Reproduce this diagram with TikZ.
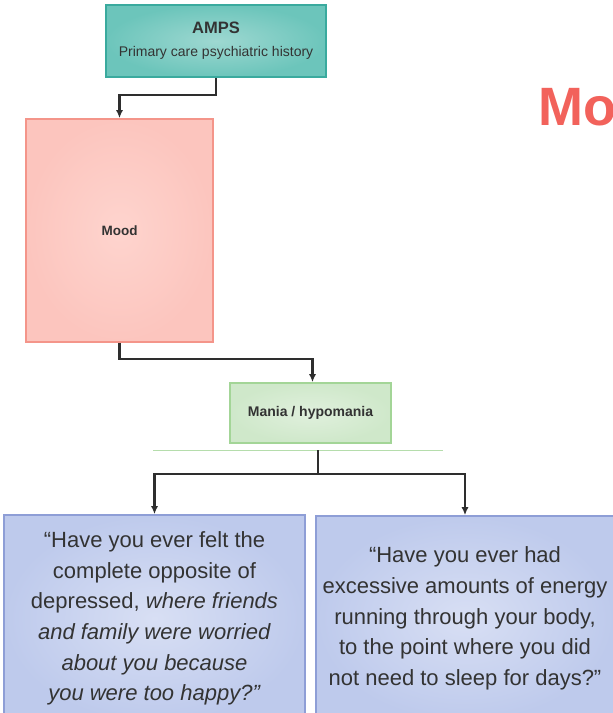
\documentclass[tikz,border=0pt]{standalone}
\usepackage{fontspec}
\setmainfont{Liberation Sans}
\usetikzlibrary{arrows.meta}
\definecolor{tealin}{HTML}{9ED8D1}
\definecolor{tealout}{HTML}{6CC5BB}
\definecolor{tealline}{HTML}{3AAA9E}
\definecolor{pinkin}{HTML}{FED4CE}
\definecolor{pinkout}{HTML}{FCC5BE}
\definecolor{pinkline}{HTML}{F4958A}
\definecolor{greenin}{HTML}{E0F0DD}
\definecolor{greenout}{HTML}{CFE8CA}
\definecolor{greenline}{HTML}{A3D597}
\definecolor{bluein}{HTML}{D8DFF4}
\definecolor{blueout}{HTML}{BECAEC}
\definecolor{blueline}{HTML}{8E9ED6}
\definecolor{txt}{HTML}{333333}
\definecolor{conn}{HTML}{2E2E2E}
\definecolor{titlered}{HTML}{F2625B}
\begin{document}
\begin{tikzpicture}[x=1pt,y=-1pt,
  box/.style={rectangle, inner sep=0pt, text=txt, align=center, line width=1.6pt},
  ampsbox/.style={box, inner color=tealin, outer color=tealout, draw=tealline},
  moodbox/.style={box, inner color=pinkin, outer color=pinkout, draw=pinkline},
  maniabox/.style={box, inner color=greenin, outer color=greenout, draw=greenline},
  qbox/.style={box, inner color=bluein, outer color=blueout, draw=blueline,
    font=\fontsize{22}{30.6}\selectfont},
  conn/.style={draw=conn, line width=2.2pt},
  arr/.style={conn, -{Latex[length=8pt,width=7pt]}}
]
\clip (0,0) rectangle (613,713);
\fill[white] (0,0) rectangle (613,713);

% title fragment (cut by the right edge, as in the reference)
\node[anchor=base west, inner sep=0pt, text=titlered,
  font=\fontsize{54}{54}\selectfont\bfseries] (title) at (538,125) {Mood};

% boxes
\node[ampsbox, minimum width=220pt, minimum height=72pt] (amps) at (216,41)
  {{\fontsize{16.5}{18}\selectfont\bfseries AMPS}\\[11pt]
   {\fontsize{14}{16}\selectfont Primary care psychiatric history}};
\node[moodbox, minimum width=187pt, minimum height=223pt] (mood) at (119.5,230.5)
  {\fontsize{13.5}{15}\selectfont\bfseries Mood};
\node[maniabox, minimum width=161pt, minimum height=60pt] (mania) at (310.5,413)
  {\fontsize{14}{16}\selectfont\bfseries Mania / hypomania};

\node[qbox, minimum width=301pt, minimum height=207pt] (left) at (154.5,618.5)
  {``Have you ever felt the\\
   complete opposite of\\
   depressed, \textit{where friends}\\
   \textit{and family were worried}\\
   \textit{about you because}\\
   \textit{you were too happy?''}};
\node[qbox, minimum width=298pt, minimum height=205pt] (right) at (465,618.5)
  {``Have you ever had\\
   excessive amounts of energy\\
   running through your body,\\
   to the point where you did\\
   not need to sleep for days?''};

% thin green rule
\coordinate (gl1) at (153,450);
\coordinate (gl2) at (443,450);
\draw[greenline!80, line width=0.8pt] (gl1) -- (gl2);

% connectors
\draw[arr] (amps.south) -- ++(0,17) -| (mood.north);
\draw[arr] (mood.south) -- ++(0,16) -| ([xshift=2pt]mania.north);
\coordinate (btop) at (318,450);
\coordinate (bmid) at (318,474);
\draw[conn] (btop) -- (bmid);
\draw[arr] (bmid) -| (left.north);
\draw[arr] (bmid) -| (right.north);
\end{tikzpicture}
\end{document}
